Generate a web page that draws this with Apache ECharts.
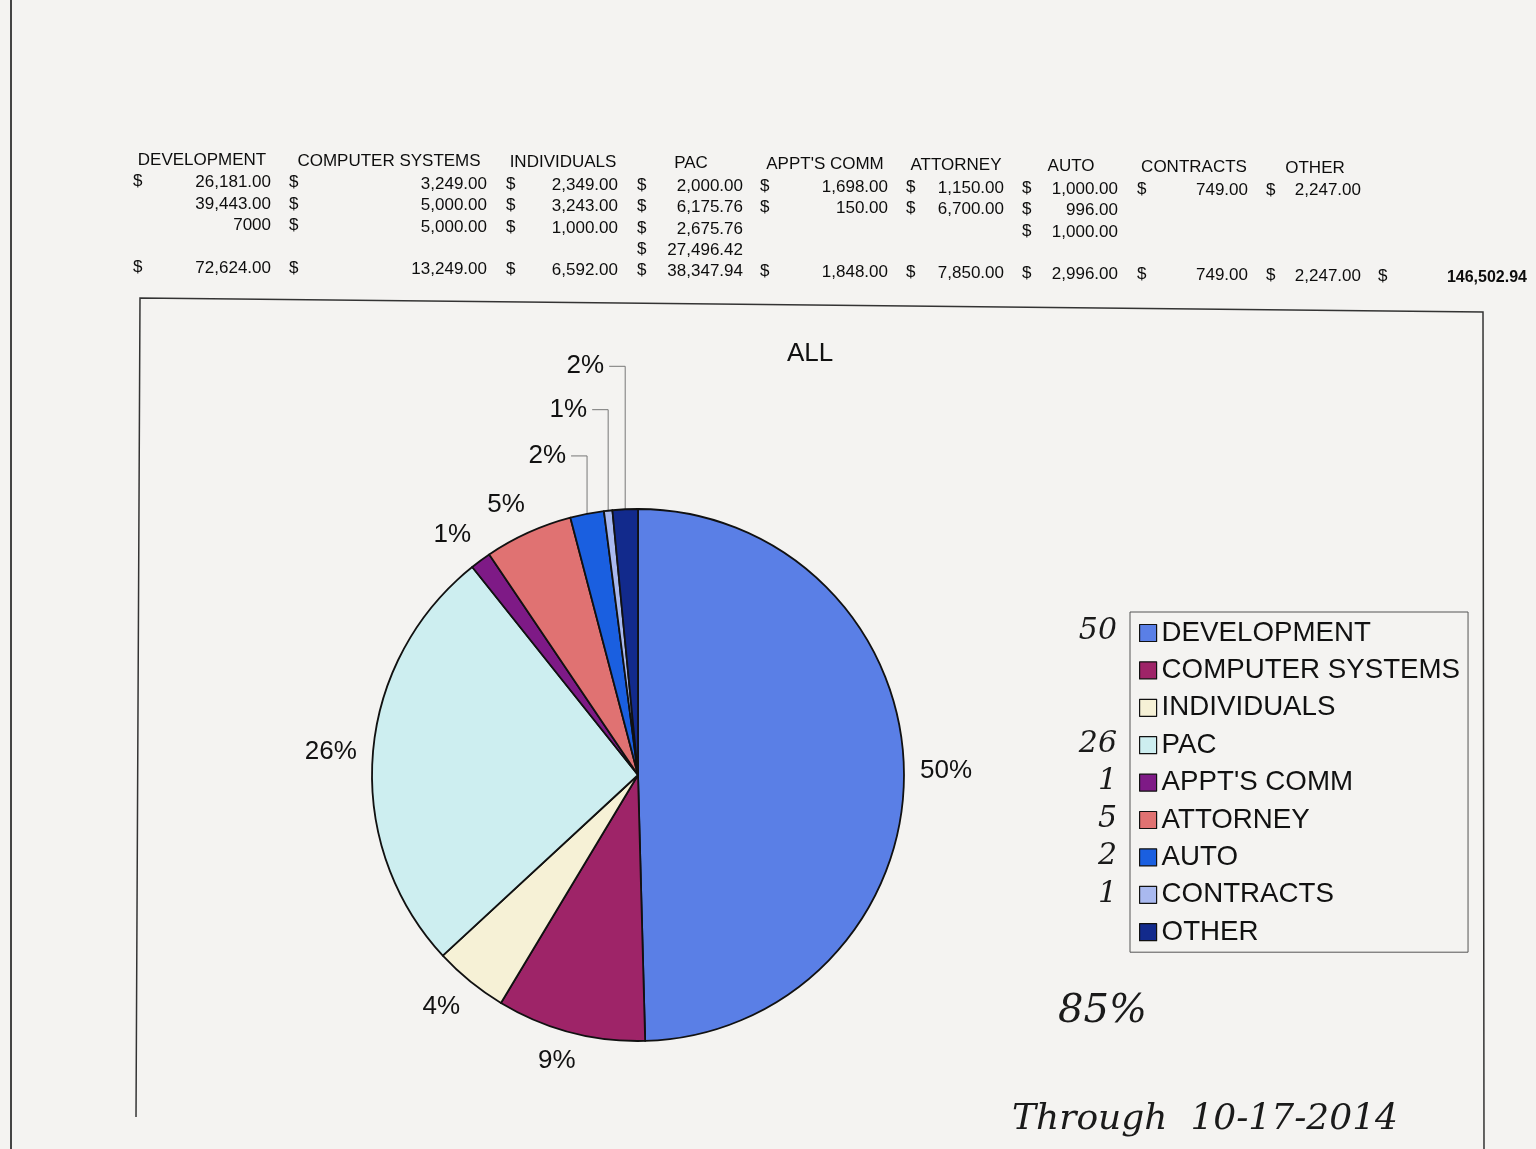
<!DOCTYPE html>
<html>
<head>
<meta charset="utf-8">
<script src="https://cdn.jsdelivr.net/npm/echarts@6/dist/echarts.min.js"></script>
<style>
  html, body { margin: 0; padding: 0; background: #f4f3f1; }
  #chart { width: 1536px; height: 1149px; }
</style>
</head>
<body>
<div id="chart"></div>
<script>
// ---------- data ----------
const categories = ['DEVELOPMENT', 'COMPUTER SYSTEMS', 'INDIVIDUALS', 'PAC', "APPT'S COMM", 'ATTORNEY', 'AUTO', 'CONTRACTS', 'OTHER'];
const entriesRow1 = ['26,181.00', '3,249.00', '2,349.00', '2,000.00', '1,698.00', '1,150.00', '1,000.00', '749.00', '2,247.00'];
const entriesRow2 = ['39,443.00', '5,000.00', '3,243.00', '6,175.76', '150.00', '6,700.00', '996.00', '', ''];
const entriesRow3 = ['7000', '5,000.00', '1,000.00', '2,675.76', '', '', '1,000.00', '', ''];
const entriesRow4 = ['', '', '', '27,496.42', '', '', '', '', ''];
const totals = [72624.00, 13249.00, 6592.00, 38347.94, 1848.00, 7850.00, 2996.00, 749.00, 2247.00];
const grandTotal = 146502.94;
const chartTitle = 'ALL';
const handNotes = ['50', '', '', '26', '1', '5', '2', '1', ''];
const handPercent = '85%';
const handDate = 'Through  10-17-2014';

// ---------- styling / layout ----------
const colors = ['#5a7fe6', '#9e2468', '#f6f1d6', '#cdeef0', '#7e1a86', '#e07272', '#1a5fe0', '#a9b9ef', '#122a8c'];
const FONT = "'Liberation Sans', Arial, sans-serif";
const HAND = "'DejaVu Serif', serif";
const dollarX = [133, 289, 506, 637, 760, 906, 1022, 1137, 1266];
const valueRight = [271, 487, 618, 743, 888, 1004, 1118, 1248, 1361];
const headerCenter = [202, 389, 563, 691, 825, 956, 1071, 1194, 1315];
const rowY = [182, 203.5, 225, 246.5, 267.5];
const headerY = 160;
const skew = 0.0075;
const yAt = (y, x) => y + skew * (x - 200);

function fmt(v) {
  return v.toLocaleString('en-US', { minimumFractionDigits: 2, maximumFractionDigits: 2 });
}
const sumAll = totals.reduce((a, b) => a + b, 0);

const graphics = [];
function txt(text, x, y, opts) {
  graphics.push({
    type: 'text', x: x, y: y, silent: true,
    style: Object.assign({ text: text, fill: '#0d0d0d', fontSize: 17, fontFamily: FONT, align: 'left', verticalAlign: 'middle' }, opts || {})
  });
}

// table headers
categories.forEach((c, i) => txt(c, headerCenter[i], yAt(headerY, headerCenter[i]), { align: 'center' }));
// table rows
const rows = [entriesRow1, entriesRow2, entriesRow3, entriesRow4, totals.map(fmt)];
rows.forEach((row, r) => {
  row.forEach((v, i) => {
    if (!v) return;
    const showDollar = !(i === 0 && (r === 1 || r === 2));
    if (showDollar) txt('$', dollarX[i], yAt(rowY[r], dollarX[i]));
    txt(v, valueRight[i], yAt(rowY[r], valueRight[i]), { align: 'right' });
  });
});
txt('$', 1378, yAt(rowY[4], 1378));
txt(fmt(grandTotal), 1527, yAt(rowY[4], 1527), { align: 'right', fontWeight: 'bold', fontSize: 16 });

// frame around the chart (scanned, slightly skewed)
graphics.push({ type: 'polyline', silent: true, shape: { points: [[136, 1117], [140, 298], [1483, 312], [1484, 1149]] }, style: { stroke: '#333', lineWidth: 1.5, fill: null } });
graphics.push({ type: 'line', silent: true, shape: { x1: 11, y1: 0, x2: 11, y2: 1149 }, style: { stroke: '#444', lineWidth: 2 } });

// handwritten notes
const legendTop = 631, legendStep = 37.6;
handNotes.forEach((n, i) => {
  if (n) txt(n, 1117, legendTop + i * legendStep, { align: 'right', fontSize: 30, fontFamily: HAND, fontStyle: 'italic', fill: '#1a1a1a' });
});
txt(handPercent, 1058, 1012, { fontSize: 40, fontFamily: HAND, fontStyle: 'italic', fill: '#1a1a1a' });
txt(handDate, 1012, 1120, { fontSize: 36, fontFamily: HAND, fontStyle: 'italic', fill: '#1a1a1a' });

// leader-line rise for the three small top slices
const leaderRise = { 6: 58, 7: 101, 8: 143 };
const labelGap = 16;

const chart = echarts.init(document.getElementById('chart'));
chart.setOption({
  backgroundColor: '#f4f3f1',
  animation: false,
  title: {
    text: chartTitle, left: 782, top: 336,
    textStyle: { fontSize: 26, fontWeight: 'normal', color: '#111', fontFamily: FONT }
  },
  legend: {
    orient: 'vertical', left: 1130, top: 612,
    data: categories,
    icon: 'rect', itemWidth: 17, itemHeight: 17, itemGap: 9.4,
    padding: [7, 8, 6, 9],
    borderColor: '#555', borderWidth: 1,
    itemStyle: { borderColor: '#111', borderWidth: 1.2 },
    textStyle: { fontSize: 27.7, color: '#111', fontFamily: FONT }
  },
  series: [{
    type: 'pie',
    center: [638, 775],
    radius: 266,
    startAngle: 90,
    clockwise: true,
    avoidLabelOverlap: false,
    itemStyle: { borderColor: '#111', borderWidth: 1.8 },
    label: {
      show: true, position: 'outside',
      formatter: p => Math.round(p.value / sumAll * 100) + '%',
      fontSize: 26, color: '#111', fontFamily: FONT,
      distanceToLabelLine: 5
    },
    labelLine: { show: true, length: 20, length2: 0, lineStyle: { color: '#777', width: 1 } },
    labelLayout: function (p) {
      const pts = p.labelLinePoints;
      if (!pts) return {};
      const x0 = pts[0][0], y0 = pts[0][1];
      const rise = leaderRise[p.dataIndex];
      if (rise) {
        const y = y0 - rise, xEnd = x0 - 16;
        return { x: xEnd - 5, y: y, align: 'right', verticalAlign: 'middle', labelLinePoints: [[x0, y0], [x0, y], [xEnd, y]] };
      }
      // radial direction from first segment of default leader line
      let dx = pts[1][0] - x0, dy = pts[1][1] - y0;
      const len = Math.sqrt(dx * dx + dy * dy) || 1;
      dx /= len; dy /= len;
      const w = p.labelRect.width, h = p.labelRect.height;
      const cl = v => Math.max(-1, Math.min(1, v));
      const cx = x0 + dx * labelGap + cl(dx * 2) * w / 2;
      const cy = y0 + dy * labelGap + cl(dy * 2) * h / 2;
      return { x: cx, y: cy, align: 'center', verticalAlign: 'middle' };
    },
    emphasis: { disabled: true },
    data: categories.map((c, i) => ({
      name: c, value: totals[i],
      itemStyle: { color: colors[i] },
      labelLine: leaderRise[i] ? {} : { lineStyle: { opacity: 0 } }
    }))
  }],
  graphic: graphics
});
</script>
</body>
</html>
